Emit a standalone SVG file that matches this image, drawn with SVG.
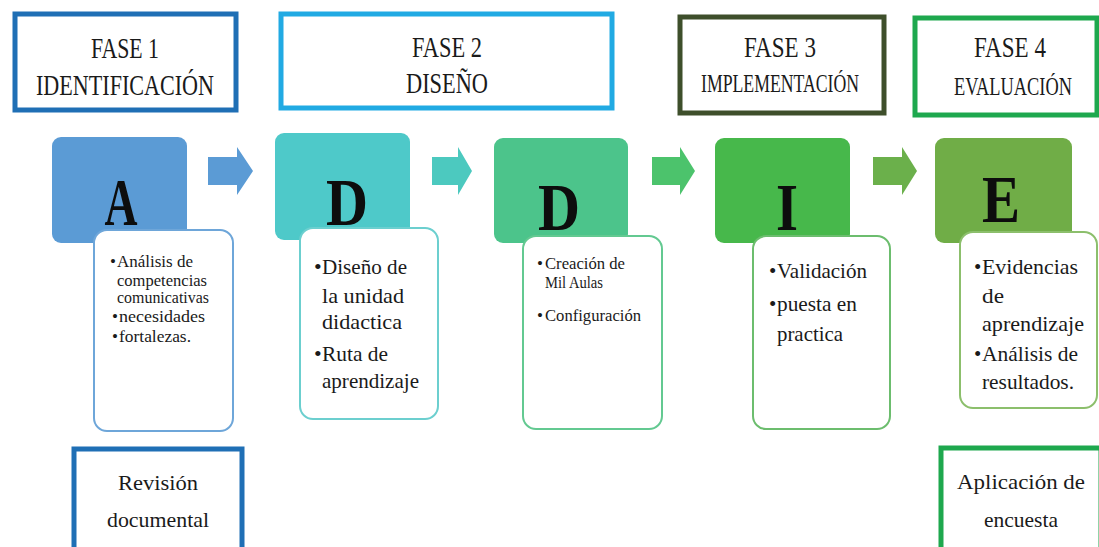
<svg xmlns="http://www.w3.org/2000/svg" width="1099" height="547" viewBox="0 0 1099 547">
<style>
.t{font-family:"Liberation Serif","Times New Roman",serif;fill:#1a1a1a}
.hd{font-size:30px}
.big{font-size:68px;font-weight:bold;fill:#0d0d0d}
.ph{fill:none;stroke-width:5}
.tb{fill:#ffffff;stroke-width:2}
</style>
<rect width="1099" height="547" fill="#ffffff"/>
<g id="fase1">
<rect class="ph" x="15" y="14" width="221" height="96" stroke="#1f6fb5"/>
<text class="t hd" x="125" y="58" text-anchor="middle" textLength="68" lengthAdjust="spacingAndGlyphs">FASE 1</text>
<text class="t hd" x="125" y="95" text-anchor="middle" textLength="178" lengthAdjust="spacingAndGlyphs">IDENTIFICACIÓN</text>
</g>
<g id="fase2">
<rect class="ph" x="281" y="14" width="331" height="94" stroke="#21aae3"/>
<text class="t hd" x="447" y="57" text-anchor="middle" textLength="70" lengthAdjust="spacingAndGlyphs">FASE 2</text>
<text class="t hd" x="447" y="93" text-anchor="middle" textLength="82" lengthAdjust="spacingAndGlyphs">DISEÑO</text>
</g>
<g id="fase3">
<rect class="ph" x="680" y="17" width="204" height="96" stroke="#3e4f2b"/>
<text class="t hd" x="780" y="57" text-anchor="middle" textLength="72" lengthAdjust="spacingAndGlyphs">FASE 3</text>
<text class="t" style="font-size:25px" x="780" y="92" text-anchor="middle" textLength="158" lengthAdjust="spacingAndGlyphs">IMPLEMENTACIÓN</text>
</g>
<g id="fase4">
<rect class="ph" x="915" y="18" width="182" height="97" stroke="#1ea84e"/>
<text class="t hd" x="1010" y="57" text-anchor="middle" textLength="72" lengthAdjust="spacingAndGlyphs">FASE 4</text>
<text class="t" style="font-size:25px" x="1013" y="95" text-anchor="middle" textLength="118" lengthAdjust="spacingAndGlyphs">EVALUACIÓN</text>
</g>
<g id="connectors">
<polygon points="208,157 237,157 237,147 253,171 237,195 237,185 208,185" fill="#5b9bd5"/>
<polygon points="432,157 458,157 458,147 472,171 458,195 458,185 432,185" fill="#4cc9bf"/>
<polygon points="652,157 680,157 680,147 695,171 680,195 680,185 652,185" fill="#4cc36c"/>
<polygon points="873,157 902,157 902,147 917,171 902,195 902,185 873,185" fill="#6bb04b"/>
</g>
<g id="nodeA">
<rect x="52" y="137" width="135" height="106" rx="9" fill="#5b9bd5"/>
<text class="t big" x="121" y="225" text-anchor="middle" textLength="33" lengthAdjust="spacingAndGlyphs">A</text>
<rect class="tb" x="94" y="230" width="139" height="201" rx="13" stroke="#6ea6d9"/>
<g class="t" style="font-size:17px">
<text x="110" y="267">•</text>
<text x="117" y="267" textLength="76" lengthAdjust="spacingAndGlyphs">Análisis de</text>
<text x="117" y="286" textLength="90" lengthAdjust="spacingAndGlyphs">competencias</text>
<text x="117" y="303" textLength="92" lengthAdjust="spacingAndGlyphs">comunicativas</text>
<text x="112" y="322">•</text>
<text x="119" y="322" textLength="86" lengthAdjust="spacingAndGlyphs">necesidades</text>
<text x="112" y="342">•</text>
<text x="119" y="342" textLength="72" lengthAdjust="spacingAndGlyphs">fortalezas.</text>
</g>
</g>
<g id="nodeD1">
<rect x="275" y="133" width="135" height="107" rx="9" fill="#4ec9c9"/>
<text class="t big" x="347" y="225" text-anchor="middle" textLength="42" lengthAdjust="spacingAndGlyphs">D</text>
<rect class="tb" x="300" y="228" width="138" height="191" rx="13" stroke="#6ccfcf"/>
<g class="t" style="font-size:22px">
<text x="314" y="274">•</text>
<text x="322" y="274" textLength="85" lengthAdjust="spacingAndGlyphs">Diseño de</text>
<text x="322" y="303" textLength="82" lengthAdjust="spacingAndGlyphs">la unidad</text>
<text x="322" y="329" textLength="80" lengthAdjust="spacingAndGlyphs">didactica</text>
<text x="314" y="361">•</text>
<text x="322" y="361" textLength="66" lengthAdjust="spacingAndGlyphs">Ruta de</text>
<text x="322" y="388" textLength="97" lengthAdjust="spacingAndGlyphs">aprendizaje</text>
</g>
</g>
<g id="nodeD2">
<rect x="494" y="138" width="134" height="105" rx="9" fill="#4cc48b"/>
<text class="t big" x="559" y="230" text-anchor="middle" textLength="42" lengthAdjust="spacingAndGlyphs">D</text>
<rect class="tb" x="523" y="236" width="139" height="193" rx="13" stroke="#63c991"/>
<g class="t" style="font-size:17px">
<text x="537" y="269">•</text>
<text x="545" y="269" textLength="80" lengthAdjust="spacingAndGlyphs">Creación de</text>
<text x="545" y="288" textLength="58" lengthAdjust="spacingAndGlyphs">Mil Aulas</text>
<text x="537" y="321">•</text>
<text x="545" y="321" textLength="96" lengthAdjust="spacingAndGlyphs">Configuración</text>
</g>
</g>
<g id="nodeI">
<rect x="715" y="138" width="135" height="105" rx="9" fill="#47b84b"/>
<text class="t big" x="787" y="230" text-anchor="middle" textLength="22" lengthAdjust="spacingAndGlyphs">I</text>
<rect class="tb" x="753" y="236" width="137" height="193" rx="13" stroke="#6cbd6e"/>
<g class="t" style="font-size:21px">
<text x="769" y="278">•</text>
<text x="777" y="278" textLength="90" lengthAdjust="spacingAndGlyphs">Validación</text>
<text x="769" y="311">•</text>
<text x="777" y="311" textLength="80" lengthAdjust="spacingAndGlyphs">puesta en</text>
<text x="777" y="341" textLength="66" lengthAdjust="spacingAndGlyphs">practica</text>
</g>
</g>
<g id="nodeE">
<rect x="935" y="138" width="137" height="105" rx="9" fill="#70ad47"/>
<text class="t big" x="1001" y="222" text-anchor="middle" textLength="38" lengthAdjust="spacingAndGlyphs">E</text>
<rect class="tb" x="960" y="232" width="137" height="176" rx="13" stroke="#8cbf6c"/>
<g class="t" style="font-size:21px">
<text x="974" y="274">•</text>
<text x="982" y="274" textLength="96" lengthAdjust="spacingAndGlyphs">Evidencias</text>
<text x="982" y="303" textLength="22" lengthAdjust="spacingAndGlyphs">de</text>
<text x="982" y="331" textLength="102" lengthAdjust="spacingAndGlyphs">aprendizaje</text>
<text x="974" y="361">•</text>
<text x="982" y="361" textLength="96" lengthAdjust="spacingAndGlyphs">Análisis de</text>
<text x="982" y="389" textLength="92" lengthAdjust="spacingAndGlyphs">resultados.</text>
</g>
</g>
<g id="revision">
<rect class="ph" x="74" y="449" width="168" height="104" stroke="#1f6fb5"/>
<text class="t" style="font-size:22px" x="158" y="490" text-anchor="middle" textLength="80" lengthAdjust="spacingAndGlyphs">Revisión</text>
<text class="t" style="font-size:22px" x="158" y="527" text-anchor="middle" textLength="102" lengthAdjust="spacingAndGlyphs">documental</text>
</g>
<g id="aplicacion">
<rect class="ph" x="941" y="448" width="160" height="104" stroke="#1ea84e"/>
<text class="t" style="font-size:22px" x="1021" y="489" text-anchor="middle" textLength="128" lengthAdjust="spacingAndGlyphs">Aplicación de</text>
<text class="t" style="font-size:22px" x="1021" y="527" text-anchor="middle" textLength="74" lengthAdjust="spacingAndGlyphs">encuesta</text>
</g>
</svg>
